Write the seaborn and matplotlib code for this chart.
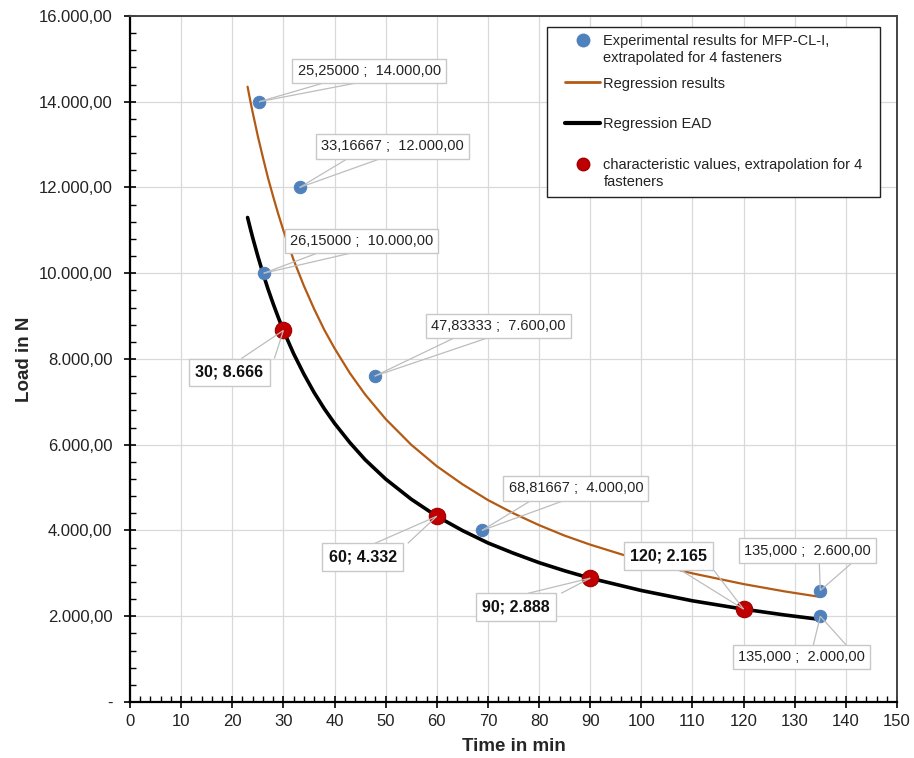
import matplotlib
matplotlib.use("Agg")
import matplotlib.pyplot as plt
from matplotlib.ticker import MultipleLocator, FuncFormatter
from matplotlib.lines import Line2D
from matplotlib.offsetbox import DrawingArea
import seaborn as sns

# Versuchsergebnisse MFP-CL-I, hochgerechnet auf 4 Verbindungsmittel
exp_time = [25.25, 33.16667, 26.15, 47.83333, 68.81667, 135.0, 135.0]
exp_load = [14000, 12000, 10000, 7600, 4000, 2600, 2000]

# Regressionskurven
reg_time = [23, 23.5, 24, 25, 26, 27, 28, 29, 30, 32, 34, 36, 38, 40, 43, 46, 50,
            55, 60, 65, 70, 75, 80, 85, 90, 100, 110, 120, 128, 135]
reg_load = [14350, 14040, 13750, 13200, 12700, 12220, 11790, 11380, 11000, 10310,
            9710, 9170, 8680, 8250, 7670, 7170, 6600, 6000, 5500, 5080, 4710, 4400,
            4125, 3880, 3670, 3300, 3000, 2750, 2580, 2450]
ead_load = [11300, 11060, 10830, 10400, 10000, 9630, 9290, 8970, 8666, 8125,
            7650, 7220, 6840, 6500, 6050, 5650, 5200, 4730, 4332, 4000, 3710, 3470,
            3250, 3060, 2888, 2600, 2360, 2165, 2030, 1925]

# charakteristische Werte
char_time = [30, 60, 90, 120]
char_load = [8666, 4332, 2888, 2165]

# Lage der Beschriftungen relativ zum Punkt (Pixel)
exp_offsets = [(110, 31), (93, 41), (98, 32), (124, 50), (94, 42), (-13, 40), (-19, -41)]
char_offsets = [(-54, -42), (-74, -41), (-74, -29), (-75, 53)]

BLUE = "#4f81bd"
ORANGE = "#b35a14"
RED = "#c00000"


def de_num(v, dec=2):
    s = f"{v:,.{dec}f}"
    return s.replace(",", "X").replace(".", ",").replace("X", ".")


def fmt_load(v, pos):
    if abs(v) < 1e-9:
        return "-"
    return de_num(v)


sns.set_style("white")
plt.rcParams['font.family'] = ['Liberation Sans', 'DejaVu Sans']

fig = plt.figure(figsize=(9.14, 7.58), dpi=100)
ax = fig.add_axes([0.1422, 0.0739, 0.8392, 0.905])

sns.lineplot(x=reg_time, y=reg_load, color=ORANGE, lw=1.6, ax=ax, zorder=3)
sns.lineplot(x=reg_time, y=ead_load, color="black", lw=2.6, ax=ax, zorder=3)
sns.scatterplot(x=exp_time, y=exp_load, color=BLUE, s=80, edgecolor=BLUE, ax=ax, zorder=4)
sns.scatterplot(x=char_time, y=char_load, color=RED, s=140, edgecolor="#a00000",
                linewidth=0.8, ax=ax, zorder=4)

# Achsen
ax.set_xlim(0, 150)
ax.set_ylim(0, 16000)
ax.xaxis.set_major_locator(MultipleLocator(10))
ax.xaxis.set_minor_locator(MultipleLocator(2))
ax.yaxis.set_major_locator(MultipleLocator(2000))
ax.yaxis.set_minor_locator(MultipleLocator(400))
ax.yaxis.set_major_formatter(FuncFormatter(fmt_load))

ax.grid(True, which="major", color="#d9d9d9", lw=0.9)
ax.set_axisbelow(True)

ax.tick_params(which="major", direction="inout", length=8, width=1.2,
               labelsize=12, color="black", labelcolor="#222222", pad=5)
ax.tick_params(axis="y", which="major", pad=8.5)
ax.tick_params(which="minor", direction="in", length=4, width=1, color="black")
ax.tick_params(axis="both", which="both", bottom=True, left=True)

for side in ["left", "bottom"]:
    ax.spines[side].set_color("black")
    ax.spines[side].set_linewidth(1.6)
for side in ["top", "right"]:
    ax.spines[side].set_color("#444444")
    ax.spines[side].set_linewidth(1.4)

ax.set_xlabel("Time in min", fontsize=13.5, fontweight="bold", labelpad=6)
ax.set_ylabel("Load in N", fontsize=13.5, fontweight="bold", labelpad=4)

# Datenbeschriftungen (Kasten + keilförmige Führungslinie)
labels_drawn = []
for t, v, off in zip(exp_time, exp_load, exp_offsets):
    ts = de_num(t, 5) if t < 100 else de_num(t, 3)
    ann = ax.annotate(f"{ts} ;  {de_num(v)}", xy=(t, v), xytext=off,
                      textcoords="offset pixels", ha="center", va="center",
                      fontsize=10.5, color="#222222", zorder=5,
                      bbox=dict(boxstyle="square,pad=0.35", fc="white", ec="#c8c8c8", lw=1))
    labels_drawn.append((ann, t, v))

for t, v, off in zip(char_time, char_load, char_offsets):
    lab = f"{t}; {v:,}".replace(",", ".")
    ann = ax.annotate(lab, xy=(t, v), xytext=off,
                      textcoords="offset pixels", ha="center", va="center",
                      fontsize=11.5, fontweight="bold", color="#111111", zorder=5,
                      bbox=dict(boxstyle="square,pad=0.4", fc="white", ec="#c8c8c8", lw=1))
    labels_drawn.append((ann, t, v))

fig.canvas.draw()
renderer = fig.canvas.get_renderer()
inv = ax.transData.inverted()
for ann, t, v in labels_drawn:
    bb = ann.get_bbox_patch().get_window_extent(renderer)
    px, py = ax.transData.transform((t, v))
    cx = (bb.x0 + bb.x1) / 2
    sign = 1 if px > cx else -1
    edge_y = bb.y1 if py > bb.y1 else bb.y0
    near, far = 12, 45
    for bx in (cx + sign * near, cx + sign * far):
        (x0, y0), (x1, y1) = inv.transform([(bx, edge_y), (px, py)])
        ax.plot([x0, x1], [y0, y1], color="#bdbdbd", lw=0.9, zorder=4.5,
                solid_capstyle="butt")

# Legende
handles = [
    Line2D([], [], ls="none", marker="o", ms=9, color=BLUE),
    Line2D([], [], ls="none"),
    Line2D([], [], color=ORANGE, lw=2),
    Line2D([], [], color="black", lw=3),
    Line2D([], [], ls="none", marker="o", ms=9, color=RED, mec="#a00000"),
    Line2D([], [], ls="none"),
]
labels = [
    "Experimental results for MFP-CL-I,",
    "extrapolated for 4 fasteners",
    "Regression results",
    "Regression EAD",
    "characteristic values, extrapolation for 4",
    "fasteners",
]
leg = ax.legend(handles, labels, loc="upper left",
                bbox_to_anchor=(0.544, 0.739, 0.434, 0.245), mode="expand",
                fontsize=10.5, frameon=True, fancybox=False, edgecolor="#222222",
                framealpha=1, borderpad=0.5, labelspacing=0.2,
                handlelength=2.4, handletextpad=0.2, borderaxespad=0)
leg.get_frame().set_linewidth(1.0)
for txt in leg.get_texts():
    txt.set_color("#222222")

# ungleiche Abstände zwischen den Einträgen wie im Original
gaps = [0, 4, 14.8, 15.5, 0]
col = leg._legend_handle_box.get_children()[0]
items = list(col.get_children())
packed = []
for i, it in enumerate(items):
    # Einzug links
    it.get_children().insert(0, DrawingArea(5.8, 0))
    packed.append(it)
    if i < len(gaps) and gaps[i] > 0:
        packed.append(DrawingArea(0, gaps[i]))
col.get_children()[:] = packed

fig.savefig("out.png", dpi=100)
